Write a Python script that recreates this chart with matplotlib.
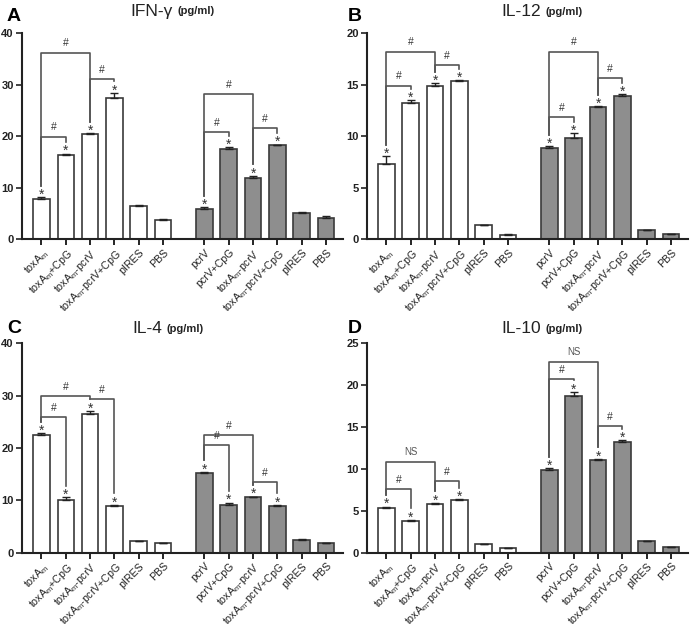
import numpy as np
import matplotlib
matplotlib.use('Agg')
import matplotlib.pyplot as plt

plt.rcParams['font.family'] = ['Liberation Sans', 'DejaVu Sans']
plt.rcParams['mathtext.default'] = 'regular'

# x labels
labels_white = ['toxA$_{m}$', 'toxA$_{m}$+CpG', 'toxA$_{m}$-pcrV', 'toxA$_{m}$-pcrV+CpG', 'pIRES', 'PBS']
labels_grey = ['pcrV', 'pcrV+CpG', 'toxA$_{m}$-pcrV', 'toxA$_{m}$-pcrV+CpG', 'pIRES', 'PBS']

# IFN-gamma
ifn_white = [7.7, 16.3, 20.4, 27.3, 6.5, 3.65]
ifn_white_err = [0.4, 0.3, 0.2, 1.1, 0.2, 0.2]
ifn_grey = [5.9, 17.5, 11.9, 18.2, 5.0, 4.0]
ifn_grey_err = [0.3, 0.3, 0.4, 0.15, 0.2, 0.4]

# IL-12
il12_white = [7.25, 13.2, 14.9, 15.3, 1.32, 0.42]
il12_white_err = [0.8, 0.3, 0.2, 0.15, 0.05, 0.05]
il12_grey = [8.8, 9.8, 12.8, 13.9, 0.9, 0.45]
il12_grey_err = [0.2, 0.5, 0.1, 0.15, 0.02, 0.02]

# IL-4
il4_white = [22.4, 10.0, 26.6, 8.9, 2.15, 1.85]
il4_white_err = [0.4, 0.6, 0.5, 0.2, 0.1, 0.05]
il4_grey = [15.25, 9.15, 10.6, 8.9, 2.47, 1.75]
il4_grey_err = [0.2, 0.4, 0.1, 0.2, 0.05, 0.05]

# IL-10
il10_white = [5.35, 3.8, 5.8, 6.3, 1.0, 0.48]
il10_white_err = [0.15, 0.1, 0.15, 0.1, 0.05, 0.05]
il10_grey = [9.9, 18.7, 11.1, 13.2, 1.32, 0.6]
il10_grey_err = [0.2, 0.5, 0.1, 0.2, 0.1, 0.1]

# which bars carry a star (index 0-5 white, 6-11 grey)
starred = [0, 1, 2, 3, 6, 7, 8, 9]

# brackets: (left bar, right bar, height, label)
ifn_brackets = [(0, 1, 19.9, '#'), (0, 2, 36.2, '#'), (2, 3, 31.0, '#'),
                (6, 8, 28.2, '#'), (6, 7, 20.8, '#'), (8, 9, 21.6, '#')]
il12_brackets = [(0, 1, 14.9, '#'), (0, 2, 18.2, '#'), (2, 3, 16.9, '#'),
                 (6, 8, 18.2, '#'), (6, 7, 11.8, '#'), (8, 9, 15.6, '#')]
il4_brackets = [(0, 1, 25.9, '#'), (0, 2, 29.9, '#'), (2, 3, 29.4, '#'),
                (6, 8, 22.5, '#'), (6, 7, 20.5, '#'), (8, 9, 13.4, '#')]
il10_brackets = [(0, 1, 7.56, '#'), (0, 2, 10.8, 'NS'), (2, 3, 8.5, '#'),
                 (6, 8, 22.8, 'NS'), (6, 7, 20.7, '#'), (8, 9, 15.1, '#')]

ymax_list = [40, 20, 40, 25]
ystep_list = [10, 5, 10, 5]
titles = ['IFN-γ', 'IL-12', 'IL-4', 'IL-10']
letters = ['A', 'B', 'C', 'D']

panels = [
    (ifn_white, ifn_white_err, ifn_grey, ifn_grey_err, ifn_brackets),
    (il12_white, il12_white_err, il12_grey, il12_grey_err, il12_brackets),
    (il4_white, il4_white_err, il4_grey, il4_grey_err, il4_brackets),
    (il10_white, il10_white_err, il10_grey, il10_grey_err, il10_brackets),
]

# axes rectangles (figure fraction)
rects = [
    [0.0317, 0.6206, 0.4618, 0.327],
    [0.528, 0.6206, 0.462, 0.327],
    [0.0317, 0.123, 0.4618, 0.3318],
    [0.528, 0.123, 0.462, 0.3318],
]
letter_pos = [(0.010, 0.9746), (0.500, 0.9746), (0.010, 0.478), (0.500, 0.478)]
title_pos = [(0.188, 0.9825), (0.722, 0.9810), (0.190, 0.478), (0.722, 0.478)]

pos = np.concatenate([np.arange(6), np.arange(6) + 6.7])
bar_w = 0.68
edge = '#3a3a3a'
line_c = '#555555'

fig = plt.figure(figsize=(6.95, 6.3), dpi=100)

for k in range(4):
    white, white_err, grey, grey_err, brackets = panels[k]
    ymax = ymax_list[k]
    ax = fig.add_axes(rects[k])
    vals = np.array(white + grey)
    errs = np.array(white_err + grey_err)
    colors = ['white'] * 6 + ['#8e8e8e'] * 6
    ax.bar(pos, vals, width=bar_w, color=colors, edgecolor=edge, linewidth=1.2, zorder=2)
    ax.errorbar(pos, vals, yerr=[np.zeros_like(errs), errs], fmt='none',
                ecolor='#222222', elinewidth=1.0, capsize=3, capthick=1.0, zorder=3)

    tops = vals + errs
    pad = 0.055 * ymax
    for i in starred:
        ax.text(pos[i], tops[i] - 0.008 * ymax, '*', ha='center', va='baseline',
                fontsize=10, color='#333333')

    for (i, j, h, lab) in brackets:
        ax.plot([pos[i], pos[i], pos[j], pos[j]],
                [tops[i] + pad, h, h, tops[j] + pad],
                color=line_c, lw=1.2, zorder=1)
        if lab == 'NS':
            ax.text((pos[i] + pos[j]) / 2, h + 0.025 * ymax, lab, ha='center',
                    va='bottom', fontsize=7, color='#555555')
        else:
            ax.text((pos[i] + pos[j]) / 2, h + 0.02 * ymax, lab, ha='center',
                    va='bottom', fontsize=7.5, color='#333333')

    ax.set_xlim(-0.8, 12.4)
    ax.set_ylim(0, ymax)
    ax.set_yticks(np.arange(0, ymax + 0.1, ystep_list[k]))
    ax.set_xticks(pos)
    ax.set_xticklabels(labels_white + labels_grey, rotation=45, ha='right',
                       rotation_mode='anchor', fontsize=7.6, color='#222222')
    ax.tick_params(axis='y', labelsize=8, width=1.2, length=4, pad=2, colors='#222222')
    ax.tick_params(axis='x', width=1.2, length=4, pad=2)
    for lab in ax.get_yticklabels():
        lab.set_fontweight('bold')
    for s in ['top', 'right']:
        ax.spines[s].set_visible(False)
    for s in ['left', 'bottom']:
        ax.spines[s].set_linewidth(1.5)
        ax.spines[s].set_color('#222222')

    fig.text(letter_pos[k][0], letter_pos[k][1], letters[k], fontsize=14,
             fontweight='bold', va='center', ha='left')
    t1 = fig.text(title_pos[k][0], title_pos[k][1], titles[k], fontsize=12.5,
                  va='center', ha='left', color='#222222')
    ax.annotate('(pg/ml)', xy=(1, 0.5), xycoords=t1, xytext=(3, 0),
                textcoords='offset points', va='center', ha='left',
                fontsize=8, fontweight='bold', color='#222222')

fig.savefig('out.png', dpi=100)
